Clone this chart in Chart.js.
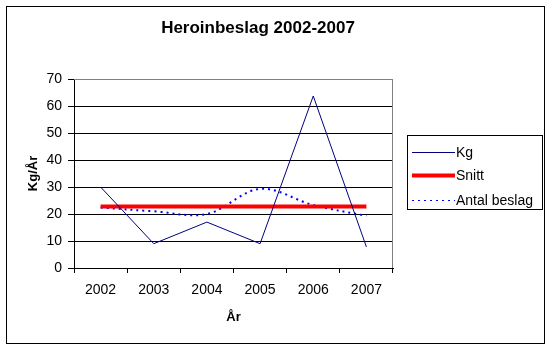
<!DOCTYPE html>
<html>
<head>
<meta charset="utf-8">
<script src="https://cdn.jsdelivr.net/npm/chart.js@4"></script>
<style>
  body { margin: 0; background: #fff; }
  canvas { display: block; }
</style>
</head>
<body>
<canvas id="myChart" width="553" height="352"></canvas>
<script>
var years = ['2002', '2003', '2004', '2005', '2006', '2007'];
var kg = [30, 9, 17, 9, 63.7, 7.8];
var snitt = [22.8, 22.8, 22.8, 22.8, 22.8, 22.8];
var antalBeslag = [22.4, 21, 20, 29.3, 23.3, 19.3];
var yMin = 0, yMax = 70, yStep = 10;

var FONT = "'Liberation Sans', Arial, sans-serif";

// ram, titel, grå plotram och egen legend
var excelLook = {
    id: 'excelLook',
    beforeDatasetsDraw: function (chart) {
        var ctx = chart.ctx, a = chart.chartArea;
        ctx.save();
        ctx.strokeStyle = '#808080';
        ctx.lineWidth = 1;
        ctx.beginPath();
        ctx.moveTo(a.left, a.top + 0.5);
        ctx.lineTo(a.right - 0.5, a.top + 0.5);
        ctx.lineTo(a.right - 0.5, a.bottom);
        ctx.stroke();
        ctx.restore();
    },
    afterDraw: function (chart) {
        var ctx = chart.ctx;
        ctx.save();
        // yttre ram
        ctx.strokeStyle = '#000';
        ctx.lineWidth = 1;
        ctx.strokeRect(6.5, 6.5, 538, 337);

        // titel
        ctx.fillStyle = '#000';
        ctx.font = 'bold 17px ' + FONT;
        ctx.textAlign = 'center';
        ctx.textBaseline = 'alphabetic';
        ctx.fillText('Heroinbeslag 2002-2007', 258, 33);

        // legend
        ctx.strokeRect(407.5, 135.5, 135, 74);
        var rows = [152, 175, 200];
        ctx.font = '14px ' + FONT;
        ctx.textAlign = 'left';
        ctx.textBaseline = 'middle';
        chart.data.datasets.forEach(function (ds, i) {
            var y = rows[i];
            ctx.save();
            ctx.strokeStyle = ds.borderColor;
            ctx.lineWidth = ds.legendWidth;
            ctx.setLineDash(ds.borderDash || []);
            ctx.beginPath();
            ctx.moveTo(412, y + 0.5);
            ctx.lineTo(455, y + 0.5);
            ctx.stroke();
            ctx.restore();
            ctx.fillStyle = '#000';
            ctx.fillText(ds.label, 456, y + 1);
        });
        ctx.restore();
    }
};

var ctx = document.getElementById('myChart').getContext('2d');

var data = {
    labels: years,
    datasets: [
        {
            label: 'Kg',
            data: kg,
            borderColor: '#000080',
            borderWidth: 1,
            legendWidth: 1,
            pointRadius: 0,
            tension: 0
        },
        {
            label: 'Snitt',
            data: snitt,
            borderColor: '#ff0000',
            borderWidth: 4,
            legendWidth: 4,
            pointRadius: 0,
            tension: 0
        },
        {
            label: 'Antal beslag',
            data: antalBeslag,
            borderColor: '#0000ff',
            borderWidth: 2,
            legendWidth: 1,
            borderDash: [2, 4],
            pointRadius: 0,
            tension: 0.35
        }
    ]
};

var options = {
    responsive: false,
    animation: false,
    layout: { padding: { left: 0, top: 79, right: 160, bottom: 0 } },
    plugins: {
        legend: { display: false },
        title: { display: false },
        tooltip: { enabled: false }
    },
    scales: {
        x: {
            offset: true,
            afterFit: function (scale) { scale.height = 84; },
            grid: {
                offset: true,
                drawOnChartArea: false,
                color: '#000',
                tickLength: 5
            },
            border: { color: '#000', width: 1 },
            ticks: {
                color: '#000',
                font: { family: FONT, size: 14 },
                padding: 9,
                maxRotation: 0
            },
            title: {
                display: true,
                text: 'År',
                color: '#000',
                font: { family: FONT, size: 13, weight: 'bold' },
                padding: { bottom: 27 }
            }
        },
        y: {
            min: yMin,
            max: yMax,
            afterFit: function (scale) { scale.width = 74; },
            grid: {
                color: function (c) {
                    return c.tick && c.tick.value === yMax ? '#808080' : '#000';
                },
                tickColor: '#000',
                tickLength: 6
            },
            border: { color: '#000', width: 1 },
            ticks: {
                stepSize: yStep,
                color: '#000',
                font: { family: FONT, size: 14 },
                padding: 6
            },
            title: {
                display: true,
                text: 'Kg/År',
                color: '#000',
                font: { family: FONT, size: 13, weight: 'bold' },
                padding: { top: 26 }
            }
        }
    }
};

var myLineChart = new Chart(ctx, {
    type: 'line',
    data: data,
    options: options,
    plugins: [excelLook]
});
</script>
</body>
</html>
